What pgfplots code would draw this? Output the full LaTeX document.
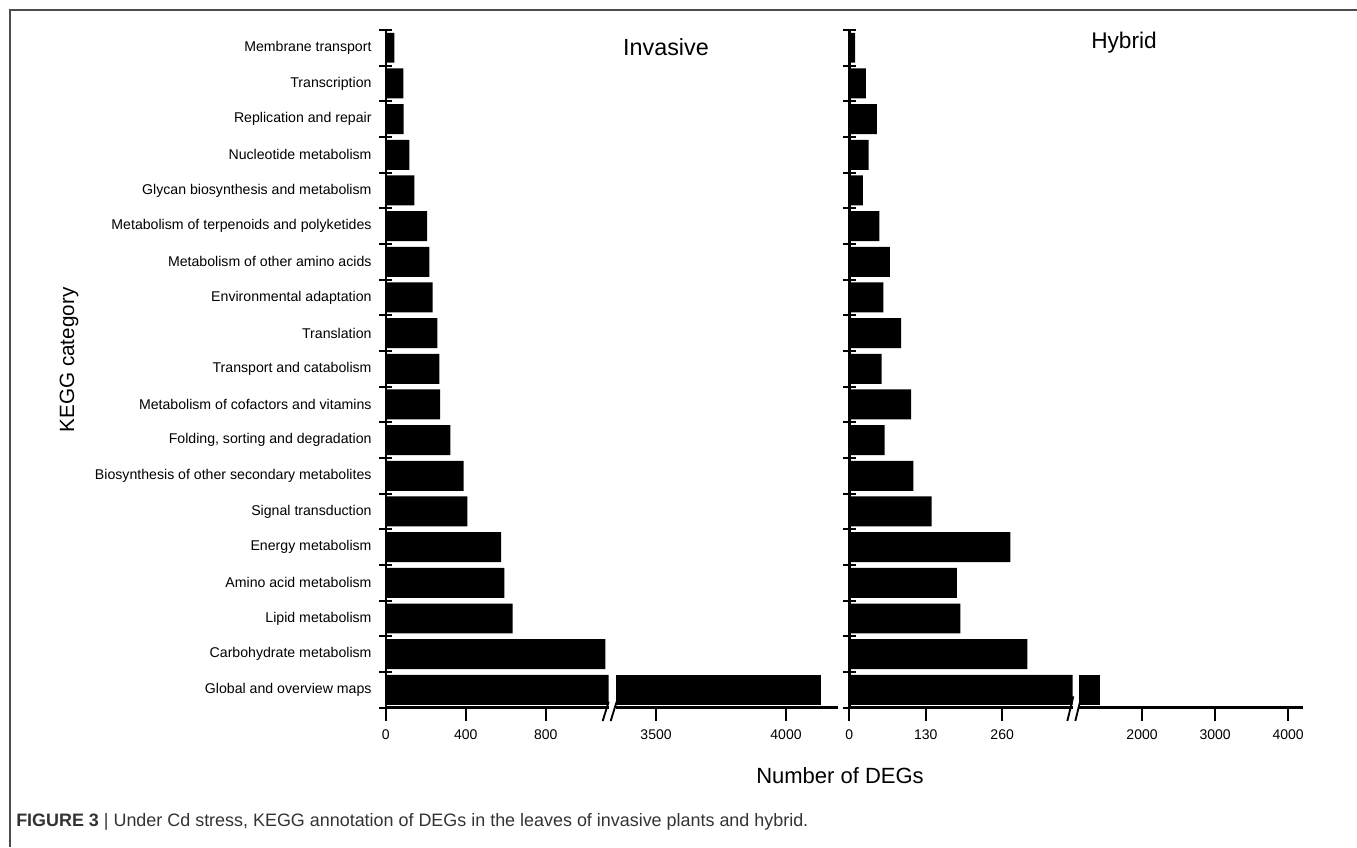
\documentclass[border=0pt]{standalone}
\usepackage{pgfplots}
\pgfplotsset{compat=1.18}
\usepackage{pgfplotstable}
\usepackage{fontspec}
\setmainfont{Liberation Sans}
\usepackage{graphicx}

\pgfplotstableread{
idx inv hyb
0 4136 1425
1 1098 303
2 635 189
3 593 183
4 577 274
5 408 140
6 390 109
7 323 60
8 272 105
9 268 55
10 258 88
11 235 58
12 218 69
13 207 51
14 143 23
15 118 33
16 90 47
17 88 28
18 43 10
}\keggdata

\pgfplotsset{
  common/.style={
    scale only axis, height=508.3pt, anchor=south west,
    ymin=-0.5, ymax=18.5,
    xbar, bar width=0.84, bar shift=0pt,
    axis line style={line width=1.8pt,-},
    major tick length=9.75pt,
    xtick align=outside,
    ytick align=center,
    tick style={line width=1.6pt, black},
    tick label style={font=\fontsize{10.5}{12}\selectfont},
    /pgf/number format/assume math mode=true,
    /pgf/number format/set thousands separator={},
    xticklabel style={yshift=-3.5pt},
  },
  leftseg/.style={common,
    axis x line*=bottom, axis y line*=left,
    ytick={-0.5,0.5,...,18.5},
  },
  rightseg/.style={common,
    axis x line*=bottom, axis y line=none,
  },
}

\begin{document}
\begin{tikzpicture}
\path[use as bounding box] (0,0) rectangle (1017.75pt,635.25pt);
\draw[black!70, line width=0.8pt] (7.5pt,0) -- (7.5pt,627.75pt) -- (1017.75pt,627.75pt);

% Invasive left segment
\begin{axis}[leftseg, at={(289.3pt,104.5pt)}, width=167.25pt,
  xmin=0, xmax=1115, xtick={0,400,800},
  yticklabels={Global and overview maps,Carbohydrate metabolism,Lipid metabolism,Amino acid metabolism,Energy metabolism,Signal transduction,Biosynthesis of other secondary metabolites,{Folding, sorting and degradation},Metabolism of cofactors and vitamins,Transport and catabolism,Translation,Environmental adaptation,Metabolism of other amino acids,Metabolism of terpenoids and polyketides,Glycan biosynthesis and metabolism,Nucleotide metabolism,Replication and repair,Transcription,Membrane transport,{}},
  yticklabel style={yshift=13.38pt, xshift=-2.25pt, font=\fontsize{10.6}{12}\selectfont},
]
\addplot[fill=black, draw=none] table[x=inv, y=idx] {\keggdata};
\end{axis}

% Invasive right segment
\begin{axis}[rightseg, at={(462pt,104.5pt)}, width=166.5pt,
  xmin=3346, xmax=4200, xtick={3500,4000}]
\addplot[fill=black, draw=none] coordinates {(4136,0)};
\end{axis}

% Hybrid left segment
\begin{axis}[leftseg, at={(637pt,104.5pt)}, width=167.5pt,
  xmin=0, xmax=380, xtick={0,130,260}, yticklabels={}]
\addplot[fill=black, draw=none] table[x=hyb, y=idx] {\keggdata};
\end{axis}

% Hybrid right segment
\begin{axis}[rightseg, at={(809.25pt,104.5pt)}, width=167.8pt,
  xmin=1137, xmax=4200, xtick={2000,3000,4000}]
\addplot[fill=black, draw=none] coordinates {(1425,0)};
\end{axis}

% break marks
\draw[line width=1.4pt] (452.0pt,94.5pt) -- (456.5pt,109pt);
\draw[line width=1.4pt] (458.0pt,94.5pt) -- (462.5pt,109pt);
\draw[line width=1.4pt] (800.5pt,94.5pt) -- (805pt,113pt);
\draw[line width=1.4pt] (806.5pt,94.5pt) -- (811pt,113pt);

% titles
\node[font=\fontsize{17.5}{20}\selectfont] at (499.5pt,600pt) {Invasive};
\node[font=\fontsize{17}{20}\selectfont] at (843pt,603.5pt) {Hybrid};
\node[font=\fontsize{16.5}{20}\selectfont] at (630pt,53.25pt) {Number of DEGs};
\node[font=\fontsize{15.5}{18}\selectfont, rotate=90] at (51.75pt,365.25pt) {KEGG category};

% caption
\node[anchor=west, inner sep=0pt, text=black!80] at (12pt,18.5pt)
  {\resizebox{594pt}{\height}{\fontsize{13.5}{15}\selectfont\textbf{FIGURE 3} | Under Cd stress, KEGG annotation of DEGs in the leaves of invasive plants and hybrid.}};
\end{tikzpicture}
\end{document}
